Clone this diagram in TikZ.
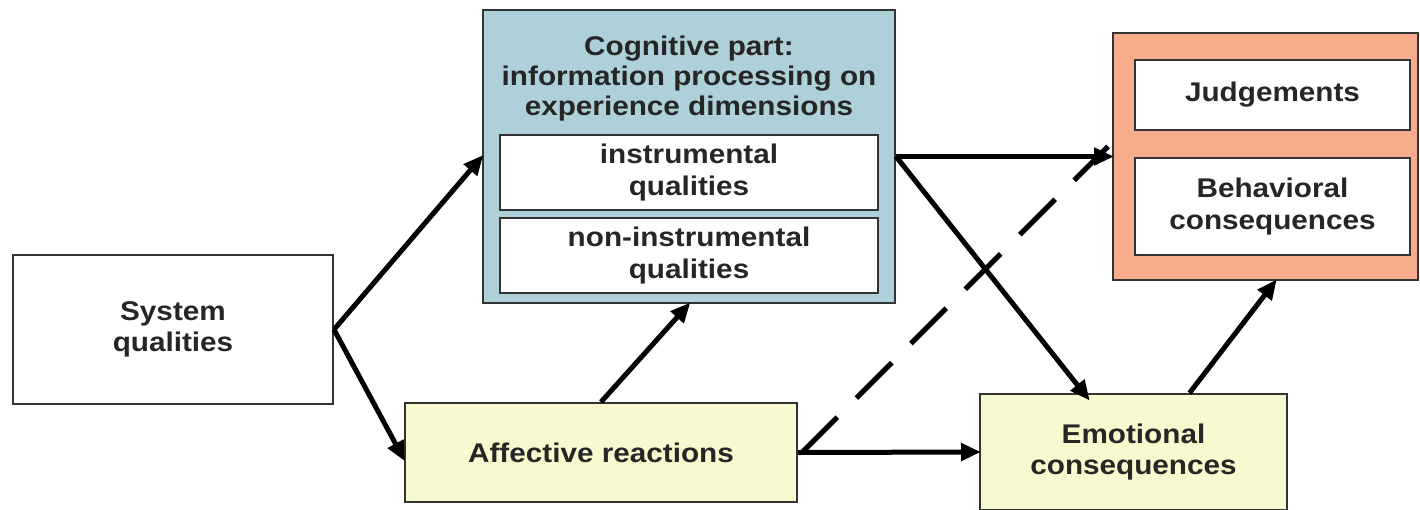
\documentclass[tikz,border=0pt]{standalone}
\usepackage{fontspec}
\setmainfont{Liberation Sans}[FakeStretch=1.1]
\usetikzlibrary{arrows.meta}
\definecolor{cogblue}{HTML}{AED0D9}
\definecolor{orangebg}{HTML}{F7AD8C}
\definecolor{paleyellow}{HTML}{F9F9CF}
\definecolor{txt}{HTML}{262626}
\begin{document}
\begin{tikzpicture}[x=1pt,y=-1pt,
  lbl/.style={align=center, font=\fontsize{27}{31.5}\selectfont\bfseries, text=txt},
  box/.style={draw=black!80, line width=2pt, rectangle, inner sep=0pt, lbl},
  conn/.style={line width=5pt, -{Triangle[length=20pt,width=17pt]}, shorten >=-2pt}
]
\useasboundingbox (0,0) rectangle (1420,509);
\node[box, fill=white, minimum width=320pt, minimum height=149pt] (sys) at (173,329.5) {System\\qualities};
\node[box, fill=cogblue, minimum width=412pt, minimum height=293pt] (cog) at (689,156.5) {};
\node[lbl, font=\fontsize{27}{30}\selectfont\bfseries] (cogt) at (689,79) {Cognitive part:\\information processing on\\experience dimensions};
\node[box, fill=white, minimum width=378pt, minimum height=75pt] (ins) at (689,172.5) {instrumental\\qualities};
\node[box, fill=white, minimum width=378pt, minimum height=75pt] (nins) at (689,255.5) {non-instrumental\\qualities};
\node[box, fill=orangebg, minimum width=305pt, minimum height=247pt] (org) at (1265.5,156.5) {};
\node[box, fill=white, minimum width=275pt, minimum height=70pt] (jud) at (1272.5,95) {Judgements};
\node[box, fill=white, minimum width=275pt, minimum height=97pt] (beh) at (1272.5,206.5) {Behavioral\\consequences};
\node[box, fill=paleyellow, minimum width=392pt, minimum height=99pt] (aff) at (601,452.5) {Affective reactions};
\node[box, fill=paleyellow, minimum width=307pt, minimum height=116pt] (emo) at (1133.5,452) {Emotional\\consequences};

\draw[conn] (sys.east) -- (cog.west);
\draw[conn] (sys.east) -- ([yshift=-7pt]aff.west);
\draw[conn] (aff.north) -- (cog.south);
\draw[conn] (aff.east) -- (emo.west);
\draw[line width=5pt, dash pattern=on 50pt off 27pt] ([xshift=4pt]aff.east) -- ([xshift=-4pt,yshift=10pt]org.west);
\draw[conn] (cog.east) -- (org.west);
\draw[conn] (cog.east) -- ([xshift=-45pt,yshift=-6pt]emo.north);
\draw[conn] ([xshift=56pt]emo.north) -- ([xshift=10pt]org.south);
\end{tikzpicture}
\end{document}
